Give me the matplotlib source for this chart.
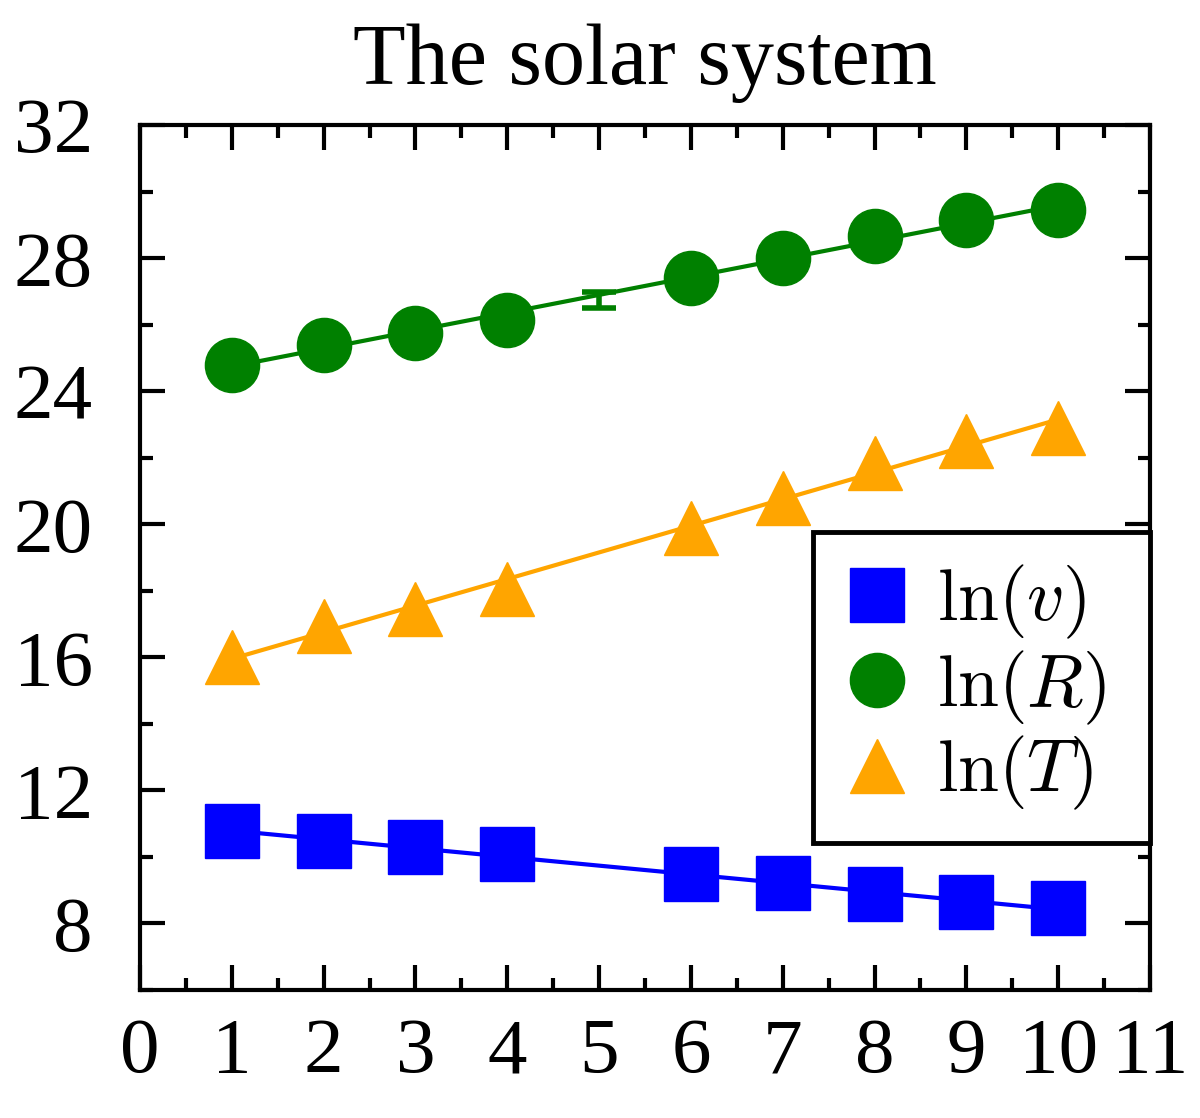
import numpy as np
import matplotlib
matplotlib.use("Agg")
import matplotlib.pyplot as plt
from matplotlib.ticker import MultipleLocator

plt.rcParams['font.family'] = ['Liberation Serif', 'DejaVu Serif']
plt.rcParams['mathtext.fontset'] = 'cm'

# Data
planet_idx = [1, 2, 3, 4, 6, 7, 8, 9, 10]
ln_v = [10.78, 10.47, 10.30, 10.08, 9.48, 9.22, 8.88, 8.64, 8.48]
ln_R = [24.80, 25.40, 25.75, 26.15, 27.40, 28.00, 28.68, 29.15, 29.45]
ln_T = [16.00, 16.95, 17.45, 18.05, 19.90, 20.80, 21.85, 22.50, 22.90]
err_x = [5]
err_y = [26.75]
err_dy = [0.25]

title = "The solar system"
xticks = list(range(0, 12))
yticks = [8, 12, 16, 20, 24, 28, 32]

c_v, c_R, c_T = '#0000ff', '#008000', '#ffa500'

fig = plt.figure(figsize=(12, 11.18), dpi=100)
ax = fig.add_axes([0.1167, 0.1145, 0.8416, 0.7735])

x = np.array(planet_idx, dtype=float)
xfit = np.array([1.0, 10.0])
for y, c in [(ln_v, c_v), (ln_R, c_R), (ln_T, c_T)]:
    p = np.polyfit(x, np.array(y), 1)
    ax.plot(xfit, np.polyval(p, xfit), color=c, lw=3, zorder=2)

ms = 39
ax.plot(x, ln_v, 's', color=c_v, ms=ms, mec=c_v, mew=1, label=r'$\ln(v)$', zorder=3)
ax.plot(x, ln_R, 'o', color=c_R, ms=ms, mec=c_R, mew=1, label=r'$\ln(R)$', zorder=3)
ax.plot(x, ln_T, '^', color=c_T, ms=ms, mec=c_T, mew=1, label=r'$\ln(T)$', zorder=3)

ax.errorbar(err_x, err_y, yerr=err_dy, fmt='none', ecolor=c_R, elinewidth=4,
            capsize=12.5, capthick=4, zorder=3)

ax.set_xlim(0, 11)
ax.set_ylim(6, 32)
ax.set_xticks(xticks)
ax.set_yticks(yticks)
ax.xaxis.set_minor_locator(MultipleLocator(0.5))
ax.yaxis.set_minor_locator(MultipleLocator(2))
ax.tick_params(which='both', direction='in', top=True, right=True, width=3,
               labelsize=57, colors='black')
ax.tick_params(which='major', length=18)
ax.tick_params(which='minor', length=9)
ax.tick_params(axis='x', which='major', pad=20)
ax.tick_params(axis='y', which='major', pad=34)
for s in ax.spines.values():
    s.set_linewidth(3)

ax.set_title(title, fontsize=62, pad=30)

leg = ax.legend(loc='upper left', bbox_to_anchor=(0.6663, 0.0, 0.3337, 0.5295),
                mode='expand', borderaxespad=0,
                fontsize=53, frameon=True, fancybox=False, edgecolor='black',
                framealpha=1.0, handlelength=0.9, handletextpad=0.37,
                borderpad=0.42, labelspacing=0.1, markerscale=1.0)
leg.get_frame().set_linewidth(3.5)
leg.set_zorder(5)

fig.savefig('out.png', dpi=100, facecolor='white')
